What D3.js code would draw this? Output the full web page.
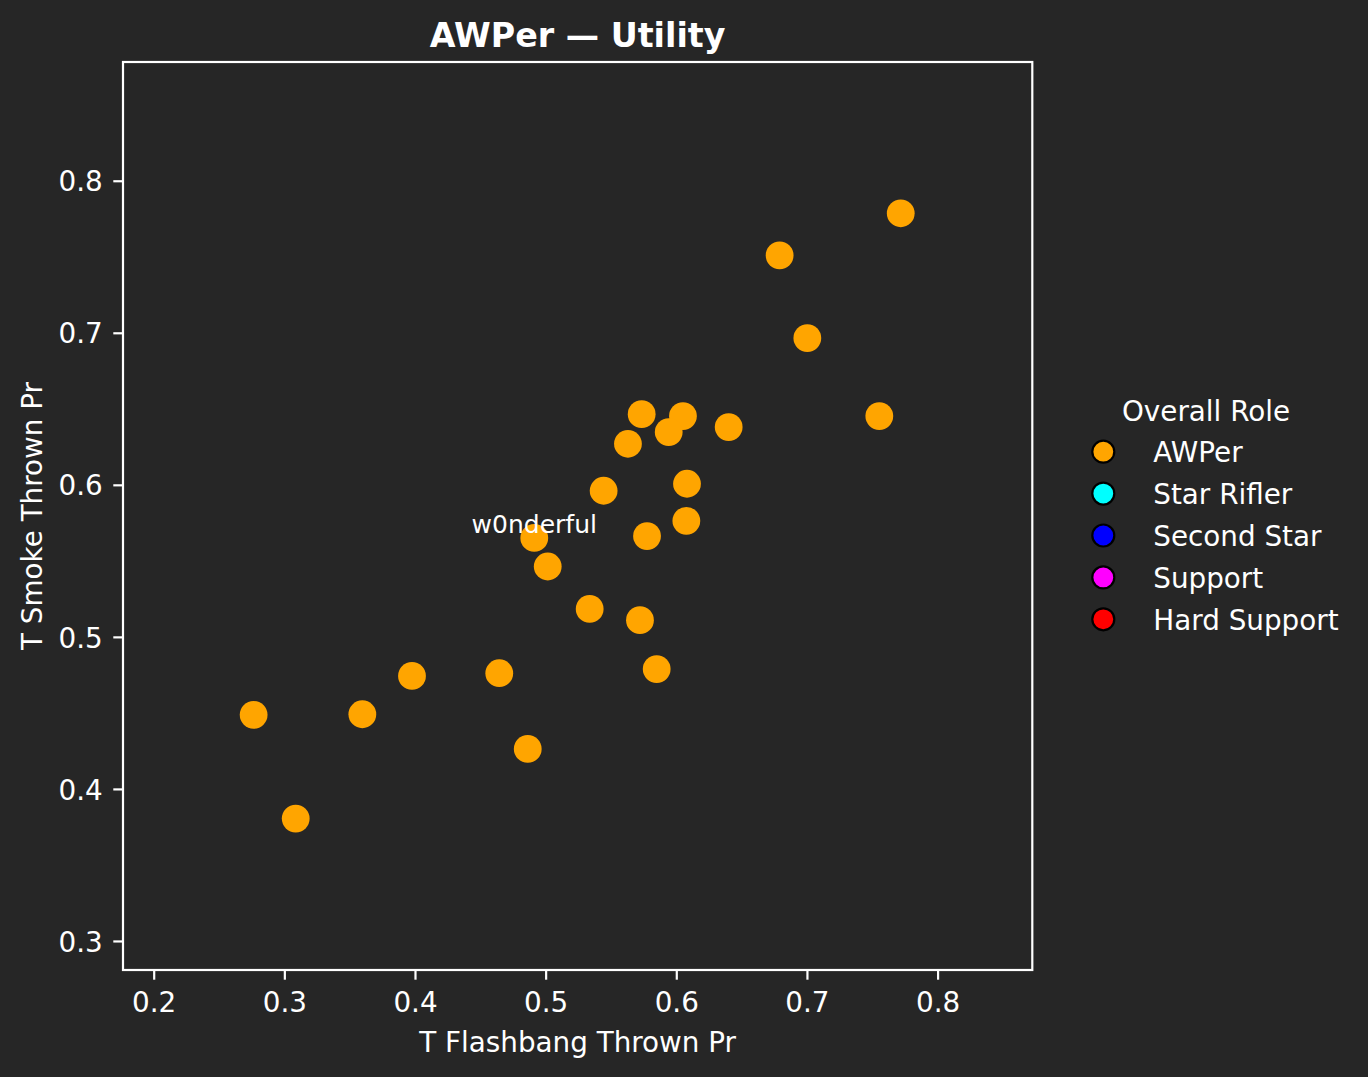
<!DOCTYPE html>
<html>
<head>
  <title>AWPer Utility Scatter</title>
  <style>
    html, body {
      margin: 0;
      padding: 0;
      background-color: #262626;
    }
    svg text {
      font-family: "DejaVu Sans", sans-serif;
      fill: white;
    }
  </style>
</head>
<body>

  <svg id="chart" width="1368" height="1077"></svg>

  <script src="https://d3js.org/d3.v7.min.js"></script>
  <script>
    // T flashbang / T smoke thrown per round, one entry per AWPer
    const flashbang = [0.2765, 0.3597, 0.3977, 0.4645, 0.4863, 0.3087, 0.5735, 0.6051,
                       0.5942, 0.5630, 0.6401, 0.5444, 0.6082, 0.6077, 0.5776, 0.5016,
                       0.5337, 0.5722, 0.5850, 0.4913, 0.7718, 0.6791, 0.7003, 0.7554];
    const smoke = [0.4487, 0.4491, 0.4743, 0.4761, 0.4263, 0.3805, 0.6465, 0.6452,
                   0.6347, 0.6270, 0.6380, 0.5961, 0.6007, 0.5763, 0.5663, 0.5463,
                   0.5184, 0.5110, 0.4788, 0.5651, 0.7786, 0.7509, 0.6965, 0.6452];
    // only one player is annotated on the chart
    const names = ["", "", "", "", "", "", "", "", "", "", "", "", "",
                   "", "", "", "", "", "", "w0nderful", "", "", "", ""];
    const roles = ["AWPer", "Star Rifler", "Second Star", "Support", "Hard Support"];
    const roleColors = ["#ffa500", "#00ffff", "#0000ff", "#ff00ff", "#ff0000"];
    const xTicks = [0.2, 0.3, 0.4, 0.5, 0.6, 0.7, 0.8];
    const yTicks = [0.3, 0.4, 0.5, 0.6, 0.7, 0.8];

    const plot = { left: 123, right: 1032.3, top: 62, bottom: 970 };
    const tickFont = 27.8;

    const svg = d3.select("#chart");

    const xScale = d3.scaleLinear()
      .domain([0.1765, 0.8725])
      .range([plot.left, plot.right]);
    const yScale = d3.scaleLinear()
      .domain([0.2809, 0.8781])
      .range([plot.bottom, plot.top]);

    // axes
    const xAxis = svg.append("g")
      .attr("transform", `translate(0,${plot.bottom})`)
      .call(d3.axisBottom(xScale).tickValues(xTicks).tickFormat(d3.format(".1f"))
        .tickSize(9.7).tickSizeOuter(0).tickPadding(13));
    const yAxis = svg.append("g")
      .attr("transform", `translate(${plot.left},0)`)
      .call(d3.axisLeft(yScale).tickValues(yTicks).tickFormat(d3.format(".1f"))
        .tickSize(9.7).tickSizeOuter(0).tickPadding(10.5));

    [xAxis, yAxis].forEach(ax => {
      ax.select(".domain").remove();
      ax.selectAll(".tick line").attr("stroke", "white").attr("stroke-width", 2.2);
      ax.selectAll(".tick text")
        .attr("fill", "white")
        .attr("font-size", tickFont)
        .attr("font-family", "DejaVu Sans");
    });
    yAxis.selectAll(".tick text").attr("dy", "0.365em");

    // frame
    svg.append("rect")
      .attr("x", plot.left)
      .attr("y", plot.top)
      .attr("width", plot.right - plot.left)
      .attr("height", plot.bottom - plot.top)
      .attr("fill", "none")
      .attr("stroke", "white")
      .attr("stroke-width", 2.2);

    // points
    svg.append("g")
      .selectAll("circle")
      .data(flashbang)
      .enter()
      .append("circle")
      .attr("cx", d => xScale(d))
      .attr("cy", (d, i) => yScale(smoke[i]))
      .attr("r", 13.9)
      .attr("fill", roleColors[0]);

    // annotation
    svg.append("g")
      .selectAll("text")
      .data(names.map((n, i) => ({ n, i })).filter(d => d.n !== ""))
      .enter()
      .append("text")
      .attr("x", d => xScale(flashbang[d.i]))
      .attr("y", d => yScale(smoke[d.i]) - 4.5)
      .attr("text-anchor", "middle")
      .attr("font-size", 25)
      .text(d => d.n);

    // title and axis labels
    svg.append("text")
      .attr("x", (plot.left + plot.right) / 2)
      .attr("y", 46.5)
      .attr("text-anchor", "middle")
      .attr("font-size", 33.3)
      .attr("font-weight", "bold")
      .text("AWPer — Utility");

    svg.append("text")
      .attr("x", (plot.left + plot.right) / 2)
      .attr("y", 1051.7)
      .attr("text-anchor", "middle")
      .attr("font-size", tickFont)
      .text("T Flashbang Thrown Pr");

    svg.append("text")
      .attr("transform", `translate(42,${(plot.top + plot.bottom) / 2}) rotate(-90)`)
      .attr("text-anchor", "middle")
      .attr("font-size", tickFont)
      .text("T Smoke Thrown Pr");

    // legend
    const legend = svg.append("g");
    legend.append("text")
      .attr("x", 1206)
      .attr("y", 420.5)
      .attr("text-anchor", "middle")
      .attr("font-size", tickFont)
      .text("Overall Role");

    const items = legend.selectAll("g.item")
      .data(roles)
      .enter()
      .append("g")
      .attr("class", "item")
      .attr("transform", (d, i) => `translate(0,${451.7 + i * 41.9})`);
    items.append("circle")
      .attr("cx", 1103.3)
      .attr("cy", 0)
      .attr("r", 11)
      .attr("fill", (d, i) => roleColors[i])
      .attr("stroke", "black")
      .attr("stroke-width", 2.2);
    items.append("text")
      .attr("x", 1153.3)
      .attr("y", 10.2)
      .attr("font-size", tickFont)
      .text(d => d);
  </script>
</body>
</html>
